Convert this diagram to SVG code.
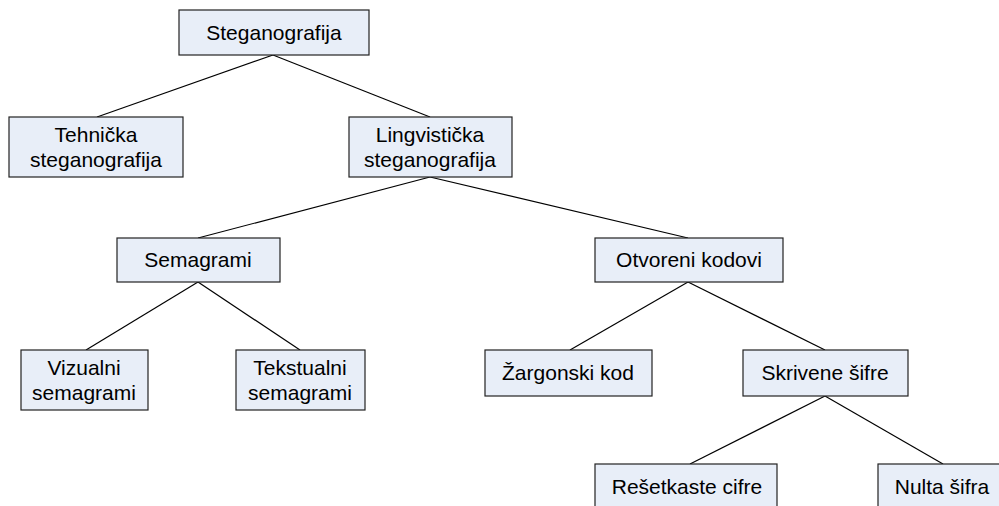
<svg xmlns="http://www.w3.org/2000/svg" width="999" height="506" viewBox="0 0 999 506">
<style>
.box{fill:#E8EEF8;stroke:#222;stroke-width:1.2}
.t{font-family:"Liberation Sans",Arial,sans-serif;font-size:21px;fill:#000;text-anchor:middle}
.c{stroke:#000;stroke-width:1.2;fill:none}
</style>
<rect width="999" height="506" fill="#fff"/>
<g id="connectors">
<line class="c" x1="273" y1="55" x2="97" y2="117"/>
<line class="c" x1="273" y1="55" x2="430" y2="117"/>
<line class="c" x1="430" y1="177" x2="198" y2="238"/>
<line class="c" x1="430" y1="177" x2="688" y2="238"/>
<line class="c" x1="198" y1="282" x2="86" y2="350"/>
<line class="c" x1="198" y1="282" x2="300" y2="350"/>
<line class="c" x1="688" y1="282" x2="570" y2="350"/>
<line class="c" x1="688" y1="282" x2="825" y2="350"/>
<line class="c" x1="825" y1="396" x2="690" y2="464"/>
<line class="c" x1="825" y1="396" x2="943" y2="464"/>
</g>
<g id="steganografija"><rect class="box" x="179" y="10" width="190" height="45"/><text class="t" x="274" y="40">Steganografija</text></g>
<g id="tehnicka"><rect class="box" x="9" y="117" width="174" height="60"/><text class="t" x="96" y="142">Tehnička</text><text class="t" x="96" y="167">steganografija</text></g>
<g id="lingvisticka"><rect class="box" x="349" y="117" width="163" height="60"/><text class="t" x="430" y="142">Lingvistička</text><text class="t" x="430" y="167">steganografija</text></g>
<g id="semagrami"><rect class="box" x="117" y="238" width="163" height="44"/><text class="t" x="198" y="267">Semagrami</text></g>
<g id="otvoreni"><rect class="box" x="595" y="238" width="188" height="44"/><text class="t" x="689" y="267">Otvoreni kodovi</text></g>
<g id="vizualni"><rect class="box" x="21" y="350" width="127" height="60"/><text class="t" x="84" y="375">Vizualni</text><text class="t" x="84" y="400">semagrami</text></g>
<g id="tekstualni"><rect class="box" x="236" y="350" width="129" height="60"/><text class="t" x="300" y="375">Tekstualni</text><text class="t" x="300" y="400">semagrami</text></g>
<g id="zargonski"><rect class="box" x="485" y="350" width="167" height="46"/><text class="t" x="568" y="380">Žargonski kod</text></g>
<g id="skrivene"><rect class="box" x="743" y="350" width="165" height="46"/><text class="t" x="825" y="380">Skrivene šifre</text></g>
<g id="resetkaste"><rect class="box" x="595" y="464" width="182" height="50"/><text class="t" x="687" y="494">Rešetkaste cifre</text></g>
<g id="nulta"><rect class="box" x="878" y="464" width="130" height="50"/><text class="t" x="942" y="494">Nulta šifra</text></g>
</svg>
